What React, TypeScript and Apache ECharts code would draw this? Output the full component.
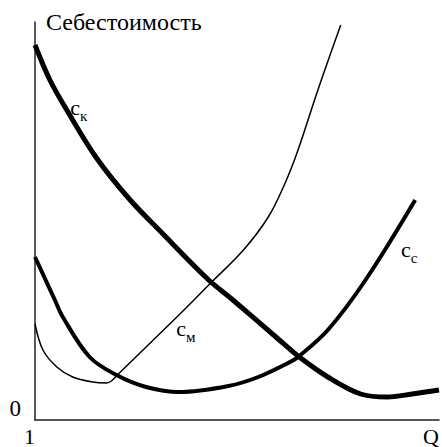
import React, { useEffect, useRef } from "react";
import * as echarts from "echarts";

// Quantity axis positions (arbitrary units, 0..407) and cost values (0..398)
const ckQ = [0, 15, 32, 62, 95, 128, 175, 197, 245, 265, 295, 328, 355, 380, 407];
const ckC = [375, 340, 310, 262, 221, 187, 140, 122, 81, 64, 43, 26, 23, 26, 30];

const ccQ = [0, 20, 28, 55, 82, 112, 145, 195, 225, 255, 265, 295, 333, 383];
const ccC = [163, 120, 103, 63, 45, 33, 28, 34, 43, 57, 63, 90, 140, 220];

const cmQ = [0, 8, 22, 38, 58, 72, 77, 85, 145, 177, 210, 235, 252, 265, 285, 308];
const cmC = [96, 70, 53, 43, 38, 37, 39, 47, 105, 137, 170, 203, 237, 270, 330, 395];

const xTickLabels = ["1", "Q"];
const yTickLabels = ["0"];
const yAxisTitle = "Себестоимость";

const labelK = { q: 44, c: 310, sub: "к" };
const labelM = { q: 152, c: 89, sub: "м" };
const labelC = { q: 377, c: 168, sub: "с" };

const X_MAX = 407;
const Y_MAX = 398;
const FONT = "'Liberation Serif', 'Times New Roman', serif";

const zip = (a: number[], b: number[]) => a.map((v, i) => [v, b[i]]);

const curveLabel = (l: { q: number; c: number; sub: string }) => ({
  symbol: "circle",
  symbolSize: 0,
  silent: true,
  data: [
    {
      coord: [l.q, l.c],
      label: {
        show: true,
        position: "inside",
        formatter: "{a|c}{b|" + l.sub + "}",
        rich: {
          a: { fontFamily: FONT, fontSize: 22, color: "#000", padding: [0, 0, 5, 0] },
          b: { fontFamily: FONT, fontSize: 15, color: "#000", verticalAlign: "bottom" },
        },
      },
    },
  ],
});

export default function App() {
  const ref = useRef<HTMLDivElement>(null);
  useEffect(() => {
    if (!ref.current) return;
    const chart = echarts.init(ref.current, undefined, { renderer: "svg" });
    chart.setOption({
      animation: false,
      backgroundColor: "#fff",
      textStyle: { fontFamily: FONT },
      grid: { left: 35, right: 0, top: 22, bottom: 27, containLabel: false },
      xAxis: {
        type: "value",
        min: 0,
        max: X_MAX,
        interval: X_MAX,
        axisLine: { show: true, lineStyle: { color: "#222", width: 1.5 } },
        axisTick: { show: false },
        splitLine: { show: false },
        axisLabel: {
          show: true,
          margin: 5,
          fontFamily: FONT,
          fontSize: 22,
          color: "#000",
          alignMinLabel: "right",
          alignMaxLabel: "right",
          formatter: (v: number) => (v === 0 ? xTickLabels[0] : xTickLabels[1]),
        },
      },
      yAxis: {
        type: "value",
        min: 0,
        max: Y_MAX,
        interval: Y_MAX,
        name: yAxisTitle,
        nameLocation: "end",
        nameGap: 0,
        nameTextStyle: {
          fontFamily: FONT,
          fontSize: 24,
          color: "#000",
          align: "left",
          verticalAlign: "middle",
          padding: [0, 0, 0, 11],
        },
        axisLine: { show: true, lineStyle: { color: "#222", width: 1.5 } },
        axisTick: { show: false },
        splitLine: { show: false },
        axisLabel: {
          show: true,
          margin: 14,
          fontFamily: FONT,
          fontSize: 23,
          color: "#000",
          verticalAlign: "bottom",
          formatter: (v: number) => (v === 0 ? yTickLabels[0] : ""),
        },
      },
      series: [
        {
          type: "line",
          name: "cк",
          data: zip(ckQ, ckC),
          smooth: 0.35,
          showSymbol: false,
          lineStyle: { color: "#000", width: 5 },
          markPoint: curveLabel(labelK),
        },
        {
          type: "line",
          name: "cс",
          data: zip(ccQ, ccC),
          smooth: 0.35,
          showSymbol: false,
          lineStyle: { color: "#000", width: 4 },
          markPoint: curveLabel(labelC),
        },
        {
          type: "line",
          name: "cм",
          data: zip(cmQ, cmC),
          smooth: 0.35,
          showSymbol: false,
          lineStyle: { color: "#000", width: 1.5 },
          markPoint: curveLabel(labelM),
        },
      ],
    });
    return () => chart.dispose();
  }, []);
  return (
    <div
      ref={ref}
      style={{ position: "fixed", left: 0, top: 0, width: 442, height: 447, background: "#fff" }}
    />
  );
}
